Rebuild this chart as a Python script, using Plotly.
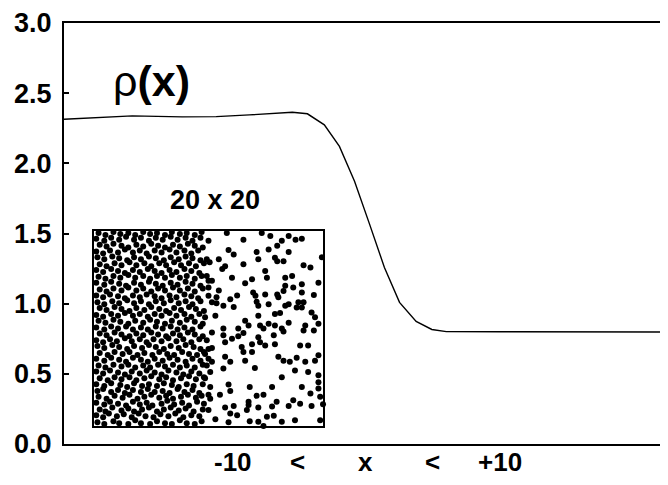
import plotly.graph_objects as go

# density profile rho(x)
curve_x = [-10, -8.84, -7.74, -6.09, -4.96, -3.86, -2.44, -1.94, -1.38, -0.88, -0.38,
           0.12, 0.61, 1.11, 1.66, 2.18, 2.66, 4.43, 7.74, 10]
curve_y = [2.314, 2.328, 2.338, 2.331, 2.333, 2.345, 2.364, 2.353, 2.274, 2.121, 1.872,
           1.565, 1.258, 1.009, 0.874, 0.816, 0.801, 0.800, 0.800, 0.798]

y_ticks = [0.0, 0.5, 1.0, 1.5, 2.0, 2.5, 3.0]
x_title_parts = ["-10", "<", "x", "<", "+10"]
x_title_pos = [-4.39, -2.27, -0.02, 2.21, 4.43]

# particle positions in the 20 x 20 box (dense left half, sparse right half)
dense_pts = """
0.3,0.4 0.9,0.2 1.7,0.5 2.2,0.3 3.0,0.2 3.6,0.6 4.1,0.3 4.9,0.2 5.5,0.5 6.2,0.3 6.8,0.2 7.5,0.6 8.1,0.3 8.8,0.2 9.4,0.5
0.2,1.1 0.8,0.9 1.3,1.3 2.0,1.0 2.6,1.2 3.3,0.9 3.9,1.3 4.5,1.0 5.2,0.9 5.8,1.2 6.5,1.0 7.1,1.3 7.8,0.9 8.5,1.1 9.2,1.0
0.5,1.7 1.0,1.5 1.6,1.9 2.4,1.6 3.0,1.8 3.5,1.5 4.2,1.7 4.8,1.9 5.5,1.5 6.1,1.7 6.7,1.9 7.4,1.6 8.0,1.8 8.7,1.5 9.5,1.7
0.2,2.4 0.9,2.2 1.4,2.5 2.1,2.3 2.8,2.1 3.4,2.5 4.0,2.2 4.6,2.4 5.1,2.1 5.9,2.3 6.4,2.6 7.0,2.2 7.7,2.4 8.3,2.1 9.0,2.5 9.6,2.3
0.4,3.0 1.1,2.8 1.8,3.1 2.5,2.9 3.1,3.2 3.8,2.8 4.4,3.0 5.0,3.2 5.7,2.9 6.3,3.1 6.9,2.8 7.6,3.0 8.2,3.2 8.9,2.9 9.4,3.1
0.3,3.6 0.8,3.8 1.5,3.5 2.1,3.7 2.7,3.4 3.4,3.7 4.1,3.5 4.7,3.8 5.3,3.5 6.0,3.6 6.6,3.4 7.3,3.8 7.9,3.5 8.6,3.7 9.2,3.4
0.2,4.3 0.9,4.1 1.5,4.4 2.3,4.2 2.9,4.0 3.5,4.4 4.2,4.1 4.8,4.3 5.5,4.1 6.1,4.4 6.8,4.2 7.4,4.0 8.1,4.3 8.7,4.1 9.5,4.3
0.5,4.9 1.2,4.7 1.8,5.0 2.4,4.8 3.1,5.0 3.7,4.7 4.4,4.9 5.0,5.1 5.7,4.8 6.3,5.0 6.9,4.7 7.6,4.9 8.3,5.1 8.9,4.8 9.6,5.0
0.2,5.6 0.8,5.4 1.4,5.7 2.1,5.5 2.7,5.3 3.3,5.6 4.0,5.4 4.6,5.7 5.3,5.5 5.9,5.3 6.5,5.7 7.2,5.5 7.8,5.3 8.5,5.6 9.2,5.4
0.4,6.2 1.0,6.0 1.7,6.3 2.4,6.1 3.0,6.3 3.6,6.0 4.3,6.2 4.9,6.0 5.6,6.3 6.2,6.1 6.9,6.3 7.5,6.0 8.1,6.2 8.8,6.0 9.5,6.3
0.2,6.9 0.9,6.7 1.5,7.0 2.2,6.8 2.8,6.6 3.4,7.0 4.1,6.8 4.7,6.6 5.3,6.9 6.0,6.7 6.6,7.0 7.3,6.8 8.0,6.6 8.6,6.9 9.3,6.7
0.5,7.5 1.2,7.3 1.8,7.6 2.5,7.4 3.1,7.6 3.8,7.3 4.4,7.5 5.1,7.3 5.7,7.6 6.4,7.4 7.0,7.3 7.7,7.6 8.3,7.4 9.0,7.3 9.6,7.6
0.3,8.2 0.9,8.0 1.6,8.3 2.2,8.1 2.9,7.9 3.5,8.2 4.2,8.0 4.8,8.3 5.4,8.1 6.1,7.9 6.7,8.2 7.4,8.0 8.0,8.3 8.7,8.1 9.3,7.9
0.2,8.8 0.8,8.6 1.4,8.9 2.0,8.7 2.7,9.0 3.3,8.7 4.0,8.9 4.6,8.6 5.2,8.9 5.9,8.7 6.5,9.0 7.2,8.7 7.8,8.9 8.5,8.6 9.2,8.9
0.5,9.5 1.1,9.3 1.8,9.6 2.4,9.4 3.1,9.2 3.7,9.5 4.3,9.3 5.0,9.6 5.6,9.4 6.3,9.2 6.9,9.5 7.5,9.3 8.2,9.6 8.8,9.4 9.5,9.2
0.2,10.1 0.9,9.9 1.5,10.2 2.1,10.0 2.8,10.2 3.4,9.9 4.1,10.1 4.7,9.9 5.4,10.2 6.0,10.0 6.7,10.2 7.3,9.9 7.9,10.1 8.6,9.9 9.3,10.2
0.4,10.8 1.0,10.6 1.7,10.9 2.3,10.7 3.0,10.5 3.6,10.8 4.3,10.6 4.9,10.9 5.5,10.7 6.2,10.5 6.8,10.8 7.5,10.6 8.1,10.9 8.8,10.7 9.5,10.5
0.2,11.4 0.8,11.2 1.5,11.5 2.1,11.3 2.7,11.6 3.4,11.3 4.0,11.5 4.7,11.2 5.3,11.5 5.9,11.3 6.6,11.6 7.2,11.3 7.9,11.5 8.5,11.2 9.2,11.5
0.5,12.1 1.1,11.9 1.8,12.2 2.4,12.0 3.1,11.8 3.7,12.1 4.4,11.9 5.0,12.2 5.7,12.0 6.3,11.8 7.0,12.1 7.6,11.9 8.3,12.2 8.9,12.0 9.6,11.8
0.3,12.7 0.9,12.5 1.6,12.8 2.2,12.6 2.9,12.9 3.5,12.6 4.1,12.8 4.8,12.5 5.4,12.8 6.1,12.6 6.7,12.9 7.4,12.6 8.0,12.8 8.6,12.5 9.3,12.8
0.2,13.4 0.8,13.2 1.4,13.5 2.1,13.3 2.7,13.1 3.4,13.4 4.0,13.2 4.6,13.5 5.3,13.3 5.9,13.1 6.6,13.4 7.2,13.2 7.9,13.5 8.5,13.3 9.1,13.1
0.5,14.0 1.1,13.8 1.7,14.1 2.4,13.9 3.0,14.2 3.7,13.9 4.3,14.1 5.0,13.8 5.6,14.1 6.2,13.9 6.9,14.2 7.5,13.9 8.2,14.1 8.8,13.8 9.5,14.1
0.2,14.7 0.9,14.5 1.5,14.8 2.2,14.6 2.8,14.4 3.5,14.7 4.1,14.5 4.8,14.8 5.4,14.6 6.0,14.4 6.7,14.7 7.3,14.5 8.0,14.8 8.6,14.6 9.3,14.4
0.4,15.3 1.0,15.1 1.7,15.4 2.3,15.2 3.0,15.5 3.6,15.2 4.3,15.4 4.9,15.1 5.5,15.4 6.2,15.2 6.8,15.5 7.5,15.2 8.1,15.4 8.8,15.1 9.4,15.4
0.2,16.0 0.8,15.8 1.5,16.1 2.1,15.9 2.7,15.7 3.4,16.0 4.0,15.8 4.7,16.1 5.3,15.9 5.9,15.7 6.6,16.0 7.2,15.8 7.9,16.1 8.5,15.9 9.2,15.7
0.5,16.6 1.1,16.4 1.8,16.7 2.4,16.5 3.1,16.8 3.7,16.5 4.4,16.7 5.0,16.4 5.7,16.7 6.3,16.5 7.0,16.8 7.6,16.5 8.3,16.7 8.9,16.4 9.6,16.7
0.3,17.3 0.9,17.1 1.6,17.4 2.2,17.2 2.9,17.0 3.5,17.3 4.1,17.1 4.8,17.4 5.4,17.2 6.1,17.0 6.7,17.3 7.4,17.1 8.0,17.4 8.6,17.2 9.3,17.0
0.2,17.9 0.8,17.7 1.4,18.0 2.1,17.8 2.7,18.1 3.4,17.8 4.0,18.0 4.6,17.7 5.3,18.0 5.9,17.8 6.6,18.1 7.2,17.8 7.9,18.0 8.5,17.7 9.1,18.0
0.5,18.6 1.1,18.4 1.7,18.7 2.4,18.5 3.0,18.3 3.7,18.6 4.3,18.4 5.0,18.7 5.6,18.5 6.2,18.3 6.9,18.6 7.5,18.4 8.2,18.7 8.8,18.5 9.5,18.3
0.2,19.2 0.9,19.0 1.5,19.3 2.2,19.1 2.8,19.4 3.5,19.1 4.1,19.3 4.8,19.0 5.4,19.3 6.0,19.1 6.7,19.4 7.3,19.1 8.0,19.3 8.6,19.0 9.3,19.3
0.4,19.8 1.0,19.6 1.7,19.9 2.3,19.7 3.0,19.8 3.6,19.6 4.3,19.9 4.9,19.7 5.5,19.8 6.2,19.6 6.8,19.9 7.5,19.7 8.1,19.8 8.8,19.6 9.4,19.9
"""

sparse_pts = """
10.0,19.0 9.85,17.1 10.1,16.8 10.9,17.1 11.2,16.1 11.45,16.4 11.75,18.05 12.2,17.6 11.6,19.8 13.05,19.1
14.65,19.8 15.4,19.5 16.4,19.0 16.0,18.5 17.0,19.5 17.6,19.1 18.15,19.2 14.2,17.85 14.35,17.1 15.25,18.1
15.8,17.25 16.0,16.9 16.55,16.9 17.0,17.85 13.05,16.6 12.05,15.2 9.85,15.4 10.0,14.9 10.3,14.9 10.0,14.2
13.8,15.05 13.2,14.65 14.95,15.9 15.1,15.2 16.7,15.2 17.3,15.4 18.3,16.5 18.9,16.25 19.6,14.7 19.9,17.3
10.9,13.9 10.0,13.35 10.3,12.7 10.7,13.2 10.7,12.6 11.3,12.35 11.9,13.0 12.2,12.2 12.5,13.4 13.9,13.7
14.1,13.35 14.35,12.35 14.2,12.75 14.95,13.5 15.25,12.5 16.0,13.5 16.1,13.2 16.55,13.85 16.7,14.4 17.4,14.2
18.15,13.7 19.2,13.45 18.15,14.55 17.0,12.5 16.7,12.35 17.85,12.7 18.3,12.7 18.15,12.15 17.7,12.15 16.25,11.6
14.35,11.3 15.8,11.5 19.0,11.65 19.3,11.15 10.6,11.3 9.7,11.15 13.2,10.8 13.5,10.3 14.5,10.3 15.25,10.5
15.8,10.3 17.0,10.6 18.45,10.3 19.6,10.5 11.3,10.0 12.6,10.0 14.8,10.0 16.4,10.0
10.3,9.6 11.3,9.3 12.05,8.95 12.6,9.2 13.05,9.55 14.35,9.1 14.5,8.6 14.95,8.25 15.7,9.3 15.8,8.4
16.55,9.7 18.3,9.8 19.2,9.8 9.85,8.8 10.0,7.9 10.3,8.0 9.7,7.4 10.0,6.9 10.3,6.6 9.85,6.2
10.15,5.55 9.7,4.9 11.45,8.6 11.45,7.1 11.9,6.6 11.3,5.9 12.9,8.1 13.05,7.6 13.8,8.4 13.8,7.6
13.2,6.7 14.05,5.95 16.1,7.1 16.55,6.7 17.1,6.6 17.7,7.0 18.0,8.25 18.7,8.25 18.45,6.6 19.3,6.7
19.6,7.25 17.55,5.7 18.7,5.55 19.6,5.2 19.6,4.5 16.4,5.0 10.15,4.0 11.75,4.25 11.9,3.6 13.6,4.0
15.55,4.0 18.15,4.0 19.6,3.85 10.0,3.2 10.15,2.8 11.0,3.2 14.2,3.1 14.8,3.2 15.95,2.5 17.0,2.05
17.4,2.65 18.0,2.3 18.9,3.35 19.0,2.05 19.75,3.0 20.0,2.25 13.5,2.5 13.5,2.15 13.35,1.65 14.35,1.9
15.55,2.0 11.45,1.9 12.2,2.05 10.0,1.65 11.9,1.3 12.5,1.1 15.1,0.95 15.7,1.05 13.6,0.5 14.35,0.45
16.4,0.45 17.55,0.6 19.75,0.6 10.6,0.7 11.75,0.4 14.8,0.0
"""


def parse(s):
    xs, ys = [], []
    for tok in s.split():
        a, b = tok.split(",")
        xs.append(float(a))
        ys.append(float(b))
    return xs, ys


dx, dy = parse(dense_pts)
sx, sy = parse(sparse_pts)
px = dx + sx
py = dy + sy

FONT = "Liberation Sans"

fig = go.Figure()
fig.add_trace(go.Scatter(x=curve_x, y=curve_y, mode="lines",
                         line=dict(color="black", width=1.4),
                         xaxis="x", yaxis="y", showlegend=False, hoverinfo="skip"))
fig.add_trace(go.Scatter(x=px, y=py, mode="markers",
                         marker=dict(color="black", size=6, line=dict(width=0)),
                         xaxis="x2", yaxis="y2", cliponaxis=False,
                         showlegend=False, hoverinfo="skip"))

annotations = [
    dict(x=-7.11, y=2.59, xref="x", yref="y", text="ρ<b>(x)</b>", showarrow=False,
         font=dict(family=FONT, size=43, color="black"), xanchor="center", yanchor="middle"),
    dict(x=-4.99, y=1.738, xref="x", yref="y", text="<b>20 x 20</b>", showarrow=False,
         font=dict(family=FONT, size=27, color="black"), xanchor="center", yanchor="middle"),
]
for t, xp in zip(x_title_parts, x_title_pos):
    annotations.append(dict(x=xp, y=-0.0426, xref="x", yref="paper", text="<b>" + t + "</b>",
                            showarrow=False, font=dict(family=FONT, size=26, color="black"),
                            xanchor="center", yanchor="middle"))

fig.update_layout(
    width=652, height=469,
    margin=dict(l=56, r=0, t=13, b=33),
    paper_bgcolor="white", plot_bgcolor="rgba(0,0,0,0)",
    xaxis=dict(range=[-10, 9.735], showline=True, linecolor="black", linewidth=2,
               mirror=True, showticklabels=False, ticks="", showgrid=False, zeroline=False,
               domain=[0, 1]),
    yaxis=dict(range=[0, 3], showline=True, linecolor="black", linewidth=2,
               mirror=False, tickvals=y_ticks, tickformat=".1f", ticks="inside",
               ticklen=5, tickwidth=1.5, tickcolor="black", showgrid=False, zeroline=False,
               ticklabelstandoff=5, ticklabeloverflow="allow",
               tickfont=dict(family=FONT, size=27, color="black", weight="bold"),
               domain=[0, 1]),
    xaxis2=dict(range=[0, 20], domain=[0.0503, 0.4346], anchor="y2", showline=True,
                mirror=True, linecolor="black", linewidth=2, showticklabels=False,
                ticks="", showgrid=False, zeroline=False),
    yaxis2=dict(range=[0, 20], domain=[0.0426, 0.5059], anchor="x2", showline=True,
                mirror=True, linecolor="black", linewidth=2, showticklabels=False,
                ticks="", showgrid=False, zeroline=False),
    annotations=annotations,
)

fig.write_html("out.html")
